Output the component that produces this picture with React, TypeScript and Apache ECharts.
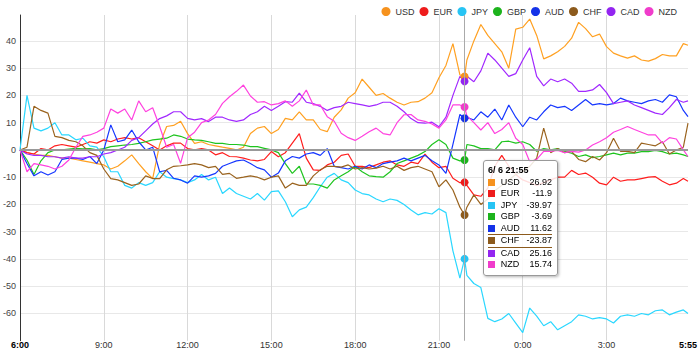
import React, { useEffect, useRef } from 'react';
import * as echarts from 'echarts';

// minutes after 6:00 (6/ 6)
const times = [
  0, 15, 30, 45, 60, 75, 90, 105, 120, 135, 150, 165, 180, 195, 210, 225, 240, 255, 270, 285,
  300, 315, 330, 345, 360, 375, 390, 405, 420, 435, 450, 465, 480, 495, 510, 525, 540, 555, 570, 585,
  600, 615, 630, 645, 660, 675, 690, 705, 720, 735, 750, 765, 780, 795, 810, 825, 840, 855, 870, 885,
  900, 915, 930, 945, 955, 960, 975, 990, 1005, 1020, 1035, 1050, 1065, 1080, 1095, 1110, 1125, 1140,
  1155, 1170, 1185, 1200, 1215, 1230, 1245, 1260, 1275, 1290, 1305, 1320, 1335, 1350, 1365, 1380,
  1395, 1410, 1425, 1435,
];

const currencies = ['USD', 'EUR', 'JPY', 'GBP', 'AUD', 'CHF', 'CAD', 'NZD'];
const colors = ['#f6921e', '#ee1c1c', '#27c4f4', '#1db31d', '#1432e8', '#8c5a1c', '#9325f0', '#f03ccb'];

const usd = [0, -1, -1.5, -2, -2, -2.5, -3, -3, -3.5, -4, -4.5, -5, -5.5, -7, -6, -4, -1.8, -5, -8, -10.5,
  2, 8.6, 9, 10.5, 6, 2.4, 3, 2, 1.5, 1, 0.6, 0, 1, 6, 8, 8.6, 6, 7.5, 11.6, 11,
  14, 11, 11, 7.5, 6.7, 12, 14.7, 19, 21, 26, 23, 20, 20.7, 19, 17.5, 16.5, 17.5, 17.7, 19, 21,
  26.5, 31, 39, 27.5, 26.92, 33, 40, 46, 42, 39, 36, 30, 44.3, 45, 48, 42, 33.4, 34.5, 36, 38,
  41, 46.8, 44.5, 41.5, 42.5, 37.9, 35.5, 34.5, 33.7, 34.5, 33, 32.6, 33.5, 35, 34.5, 34.5, 39, 38.4];
const eur = [0, -1, -1.5, 0.5, 0, 1.5, 2, 1.5, 1, 2, 3, 2.5, 3.7, 3, 4, 4.5, 4, 4.5, 3, 1.5,
  0, 1.5, 2.5, 2.5, 0.5, 0, 0.5, 0, -1.8, -1, -2.4, -2.5, -3, -3.7, -4, -3.5, -0.6, -2.5, -1, 2.5,
  6, -3, -7.3, -7.5, -5.5, -4.5, -2, -1.5, -6, -6, -6.5, -5.5, -4.5, -4, -5.5, -6, -4.5, -5, -1.5, -4.5,
  -6.5, -6, -10.4, -12, -11.9, -13, -16.5, -17, -14, -6, -2, -6, -9, -11, -12, -13, -12, -11, -10, -10,
  -7.5, -9, -8.5, -10, -12.2, -12.8, -10, -11.5, -11, -11, -10.5, -10, -9.8, -11.5, -12.8, -12.2, -10.5, -11.5];
const jpy = [0, 20, 8, 7, 8, 10, 5.5, 5.5, 3.7, 4.3, 1.5, 1, -2.5, -8, -8, -13, -14, -12, -13, -12,
  -8, -10, -10.5, -11, -12, -11, -9, -11, -10, -16, -14, -16, -17, -18, -16, -18.4, -15.3, -15, -19, -24.5,
  -22, -21, -17.5, -13.5, -10, -8.6, -11, -12, -14.7, -16, -16.5, -18, -19, -18, -18.5, -20, -22, -23.8, -23, -23.5,
  -21.6, -23, -37, -47, -39.97, -46, -49, -50.5, -61.8, -63, -62, -60, -63.5, -67, -58, -61, -64.5, -63, -66, -64.5,
  -63, -60.5, -61, -62, -61.5, -62, -63.5, -61, -60.5, -61, -60, -60.5, -59, -58.7, -60.5, -59.5, -58.7, -60];
const gbp = [0, -3.7, -9, -4, -1, 0, 0, 0.3, 0.6, 0.4, 0.5, 0, 0.5, 1.2, 1.5, 1.8, 2, 2.4, 3, 3.7,
  4, 4.3, 5.5, 5, 4, 3.7, 3.5, 3, 2.4, 2.4, 2, 2, 1.8, 1.2, 1.2, 0.6, 0, -1, -5, -8.6,
  -6, -12.5, -12.5, -13, -14, -11, -9.5, -8, -6, -8, -9.5, -9.8, -10, -8, -5, -4, -3, -2, -0.6, 2,
  3.7, 2, -3, -4, -3.69, 2, 1.5, 0.5, 0.5, 0, 3, 3.2, 2.5, 3, 2, -0.5, 0.5, 0, 0.5, -0.5,
  -1.2, -2.4, -1.8, -2.8, -2.4, -1.8, -1.2, -1.8, -1.2, -1.2, -0.6, -0.6, -0.2, -0.6, -1.5, -1.2, -1.8, -2.4];
const aud = [0, -5, -9.5, -8, -9.2, -8, -3.5, -3, -3, -3.5, -2.4, -5, 0, 9.2, 3, 3.7, 7.3, 3, 0, 1,
  -8, -7.5, -10.4, -11, -12.2, -9.5, -10, -9.5, -8.6, -6, -5, -4, -3.7, -5, -6.5, -7.3, -10, -8.5, -4, -2.4,
  -3, -1.5, -1, -2, 0.5, -6, -6.5, -7, -6, -7, -5.5, -6.5, -5, -4.5, -4, -3, -4, -3, -2, -4,
  -5.5, -8.6, 2, 13, 11.62, 12, 11, 14, 12, 15, 11, 16.5, 12, 8.5, 12, 11, 14, 16.5, 15.5, 16,
  14.5, 16.5, 18.5, 16.5, 17, 16.5, 17, 19, 18, 17.5, 17, 18, 18.5, 17.5, 20.2, 19.5, 14.5, 12.2];
const chf = [0, 1, 16, 14.5, 13.5, 5, 4.5, 3.5, 3, 1.5, -1, -2, -7, -10.5, -11, -12, -13, -12.5, -9.5, -10.5,
  -10.5, -7.3, -6, -5.8, -5.5, -5, -5.5, -6.5, -6, -9, -8.6, -10.4, -10, -9.5, -10, -11, -10, -9.5, -14, -12.2,
  -13, -13, -9.5, -7.3, -6, -6, -6.3, -5.5, -7, -6.5, -7, -6.7, -6, -7, -6, -7.5, -6.5, -6, -7, -8,
  -13.5, -11, -14.7, -21, -23.87, -21, -16.5, -20, -18, -15, -13, -11, -9, -8, -6, -3, 8, -1, 0.5, -1,
  -0.5, -3.5, -4.3, -2.4, -3.7, -1, 4.3, -0.5, -0.5, -1, 2.5, 2, 1.5, 3, -1.5, 0, 1, 9.8];
const cad = [0, -1.5, -2, -2, -2.5, -2.5, -3, -2.5, -3, -3, -2.5, -2.5, -1.5, -1, 0, 1, 3.5, 4.5, 7, 9.5,
  11.5, 12.5, 14, 14, 11.6, 11, 11.5, 10.4, 12, 12, 11, 10.5, 11, 13, 14, 16, 14.5, 16, 17.7, 17.5,
  20.8, 17.5, 17, 16, 14.5, 15.5, 16, 17.5, 17, 16.5, 16, 16.5, 17.5, 17.5, 16, 14, 11.5, 10, 9.8, 10.2,
  8.5, 12, 20, 27, 25.16, 27, 25, 29, 35.5, 33, 30, 27, 28, 33, 37.5, 27, 23.5, 26, 25, 26,
  24.5, 21.5, 21.5, 22, 24, 21, 17, 17.5, 18, 16.5, 15.5, 14.5, 13.5, 13, 15.5, 18.5, 17.5, 18];
const nzd = [0, -8, -5, -5.5, -6, -7, -6, -3.7, 1, 5, 5.5, 6.5, 8, 15, 13.5, 15, 11, 18, 14, 15.5,
  8.6, 1, 2, -4.9, 4.5, 6.5, 10, 11, 13, 17.1, 19.5, 21.5, 23.8, 19.8, 17.5, 17.7, 16.5, 17, 18, 16,
  18, 22, 16.5, 16.5, 12.2, 10.5, 6.1, 4.5, 3.5, 5, 6.7, 8, 6, 5.5, 10, 12.9, 13, 11, 10.5, 9.5,
  8, 11, 16.5, 16.5, 15.74, 12.5, 10, 7.3, 10, 6, 7.5, 10, 4.3, 2, -4.3, -3.5, -0.5, -0.5, -0.2, -1,
  -0.5, -0.8, 0, 1.8, 3, 4.5, 6.5, 7.5, 8.6, 7.5, 6.5, 5.5, 5.5, 2.5, 4.5, 4, 0, -2.4];

const seriesValues = [usd, eur, jpy, gbp, aud, chf, cad, nzd];
const HOVER_TIME = 955;
const HIGHLIGHT_NAME = 'CHF';
const yTicks = { min: -70, max: 49.5, step: 10 };
const xTicks = { min: 0, max: 1435, step: 180 };

const FONT = '"Liberation Sans", Arial, sans-serif';

function clock(t: number) {
  const total = 360 + t;
  const m = total % 1440;
  const h = Math.floor(m / 60);
  const mm = m % 60;
  return `${h}:${mm < 10 ? '0' + mm : mm}`;
}
function dateLabel(t: number) {
  const day = 6 + Math.floor((360 + t) / 1440);
  return `6/ ${day}`;
}

export default function App() {
  const ref = useRef<HTMLDivElement>(null);
  useEffect(() => {
    const chart = echarts.init(ref.current!, undefined, { renderer: 'svg' });
    const series: any[] = currencies.map((name, i) => ({
      name,
      type: 'line',
      data: times.map((t, k) => [t, seriesValues[i][k]]),
      showSymbol: false,
      symbol: 'circle',
      symbolSize: 8,
      color: colors[i],
      lineStyle: { width: 1.2, color: colors[i] },
      emphasis: { scale: false, lineStyle: { width: 1.2 } },
      animation: false,
    }));
    series[0].markLine = {
      silent: true,
      symbol: ['none', 'none'],
      label: { show: false },
      lineStyle: { color: '#999', width: 2, type: 'solid' },
      emphasis: { disabled: true },
      data: [{ yAxis: 0 }],
      animation: false,
    };

    chart.setOption({
      animation: false,
      textStyle: { fontFamily: FONT },
      grid: { left: 19, right: 8, top: 15, bottom: 11.25, containLabel: false },
      legend: {
        data: currencies,
        right: 18,
        top: 2,
        icon: 'circle',
        itemWidth: 9,
        itemHeight: 9,
        itemGap: 5,
        textStyle: { fontSize: 9, color: '#333', fontFamily: FONT },
      },
      tooltip: {
        trigger: 'axis',
        triggerOn: 'none',
        alwaysShowContent: true,
        transitionDuration: 0,
        position: [483, 160],
        padding: [4, 5, 4, 4],
        backgroundColor: 'rgba(255,255,255,0.85)',
        borderColor: '#999',
        borderWidth: 1,
        extraCssText: 'border-radius:3px;box-shadow:1px 1px 3px rgba(0,0,0,0.3);',
        textStyle: { fontSize: 9, color: '#000', fontFamily: FONT },
        axisPointer: {
          type: 'line',
          lineStyle: { color: '#aaa', width: 1, type: 'solid' },
          label: { show: false },
        },
        formatter: (params: any[]) => {
          const t = params[0].value[0];
          const head = `<div style="font-weight:bold;line-height:11.5px;font-size:9px">${dateLabel(t)} ${clock(t)}</div>`;
          const rows = params
            .map((p) => {
              const b = p.seriesName === HIGHLIGHT_NAME
                ? `border-top:1px solid ${p.color};border-bottom:1px solid ${p.color};`
                : '';
              return `<tr style="line-height:11.5px;height:11.5px">` +
                `<td style="padding:0 5px 0 0;${b}"><span style="display:inline-block;width:7px;height:7px;background:${p.color};vertical-align:-1px"></span></td>` +
                `<td style="padding:0 4px 0 0;${b}">${p.seriesName}</td>` +
                `<td style="padding:0;text-align:right;${b}">${p.value[1]}</td></tr>`;
            })
            .join('');
          return `${head}<table style="border-collapse:collapse;width:64px;font-size:9px;margin:0">${rows}</table>`;
        },
      },
      xAxis: {
        type: 'value',
        min: xTicks.min,
        max: xTicks.max,
        interval: xTicks.step,
        axisLine: { show: false, onZero: false },
        axisTick: { show: false },
        splitLine: { show: true, showMinLine: false, showMaxLine: false, lineStyle: { color: '#d9d9d9', width: 1 } },
        axisLabel: {
          margin: 0,
          fontSize: 9,
          color: '#333',
          formatter: (v: number) => (v === xTicks.min || v === xTicks.max ? `{b|${clock(v)}}` : clock(v)),
          rich: { b: { fontWeight: 'bold', color: '#000', fontSize: 9, fontFamily: FONT } },
        },
      },
      yAxis: {
        type: 'value',
        min: yTicks.min,
        max: yTicks.max,
        interval: yTicks.step,
        axisLine: { show: true, lineStyle: { color: '#333', width: 1 } },
        axisTick: { show: false },
        axisLabel: { showMinLabel: false, showMaxLabel: false, margin: 4, fontSize: 9, color: '#444' },
        splitLine: { show: true, showMinLine: false, showMaxLine: false, lineStyle: { color: '#e8e8e8', width: 1 } },
      },
      series,
    });
    chart.dispatchAction({ type: 'showTip', seriesIndex: 0, dataIndex: times.indexOf(HOVER_TIME) });
    return () => chart.dispose();
  }, []);
  return (
    <div
      ref={ref}
      style={{ position: 'absolute', left: 0, top: 0, width: 700, height: 352, background: '#fff' }}
    />
  );
}
